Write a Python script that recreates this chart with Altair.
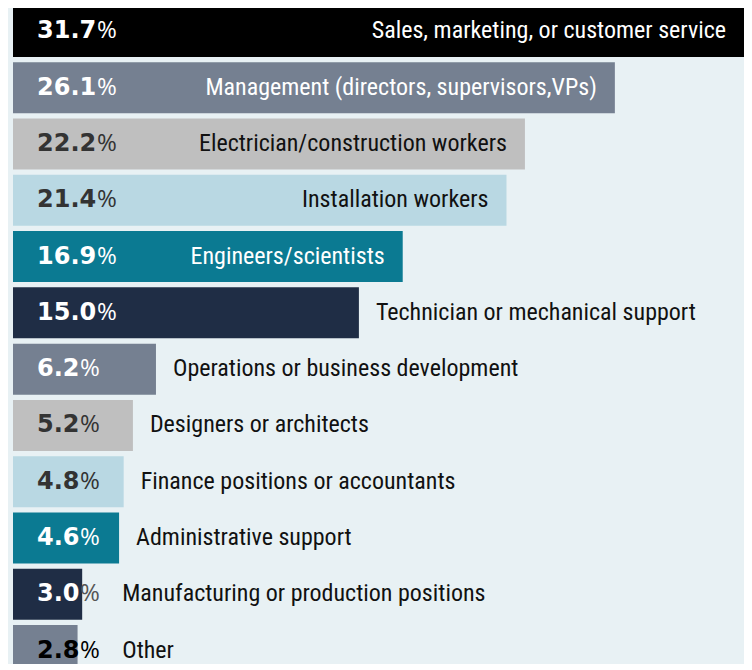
import altair as alt
import pandas as pd

categories = [
    "Sales, marketing, or customer service",
    "Management (directors, supervisors,VPs)",
    "Electrician/construction workers",
    "Installation workers",
    "Engineers/scientists",
    "Technician or mechanical support",
    "Operations or business development",
    "Designers or architects",
    "Finance positions or accountants",
    "Administrative support",
    "Manufacturing or production positions",
    "Other",
]
values = [31.7, 26.1, 22.2, 21.4, 16.9, 15.0, 6.2, 5.2, 4.8, 4.6, 3.0, 2.8]
bar_colors = ["#000000", "#758091", "#bfbfbf", "#b9d8e3", "#0b7a92", "#1f2d45",
              "#758091", "#bfbfbf", "#b9d8e3", "#0b7a92", "#1f2d45", "#758091"]
num_colors = ["#ffffff", "#ffffff", "#333333", "#333333", "#ffffff", "#ffffff",
              "#ffffff", "#333333", "#333333", "#ffffff", "#ffffff", "#000000"]
pct_colors = ["#ffffff", "#ffffff", "#333333", "#333333", "#ffffff", "#ffffff",
              "#ffffff", "#333333", "#333333", "#ffffff", "#555555", "#000000"]
label_inside = [True, True, True, True, True, False, False, False, False, False, False, False]
label_colors = ["#ffffff", "#ffffff", "#111111", "#111111", "#ffffff", "#111111",
                "#111111", "#111111", "#111111", "#111111", "#111111", "#111111"]

df = pd.DataFrame({
    "cat": categories,
    "value": values,
    "zero": [0.0] * len(values),
    "num": [f"{v:.1f}" for v in values],
    "pct": ["%"] * len(values),
    "two": [bool(v >= 10) for v in values],
    "bar_color": bar_colors,
    "num_color": num_colors,
    "pct_color": pct_colors,
    "inside": label_inside,
    "label_color": label_colors,
})

LABEL_FONT = "Roboto Condensed, Roboto, sans-serif"

y = alt.Y("cat:N", sort=None, axis=None,
          scale=alt.Scale(range=[-2, 668], paddingInner=0.094, paddingOuter=0))
x = alt.X("value:Q", axis=None, scale=alt.Scale(domain=[0, 31.7], nice=False, zero=True))
x0 = alt.X("zero:Q", axis=None)
xl = alt.X("lx:Q", axis=None)

base = alt.Chart(df)

bars = base.mark_bar().encode(
    y=y, x=x, color=alt.Color("bar_color:N", scale=None)
)

nums = base.mark_text(align="left", baseline="middle", dx=24, font="DejaVu Sans",
                      fontWeight="bold", fontSize=24).encode(
    y=y, x=x0, text="num:N", color=alt.Color("num_color:N", scale=None)
)

pct2 = base.transform_filter("datum.two").mark_text(
    align="left", baseline="middle", dx=84, font="Open Sans", fontWeight=500, fontSize=24
).encode(y=y, x=x0, text="pct:N", color=alt.Color("pct_color:N", scale=None))

pct1 = base.transform_filter("!datum.two").mark_text(
    align="left", baseline="middle", dx=67, font="Open Sans", fontWeight=500, fontSize=24
).encode(y=y, x=x0, text="pct:N", color=alt.Color("pct_color:N", scale=None))

lab_in = base.transform_filter("datum.inside").mark_text(
    align="right", baseline="middle", dx=-18, font=LABEL_FONT, fontSize=24
).encode(y=y, x=x, text="cat:N", color=alt.Color("label_color:N", scale=None))

lab_out = base.transform_filter("!datum.inside").transform_calculate(
    lx="max(datum.value, 4.0)"
).mark_text(
    align="left", baseline="middle", dx=17, font=LABEL_FONT, fontSize=24
).encode(y=y, x=xl, text="cat:N", color=alt.Color("label_color:N", scale=None))

chart = alt.layer(bars, nums, pct2, pct1, lab_in, lab_out).properties(
    width=731, height=656,
    background="#e8f1f4",
    padding={"left": 5, "top": 0, "right": 0, "bottom": 0},
    autosize=alt.AutoSizeParams(type="none"),
).configure_view(stroke=None)

chart.save("out.html", embed_options={"renderer": "svg", "actions": False})
